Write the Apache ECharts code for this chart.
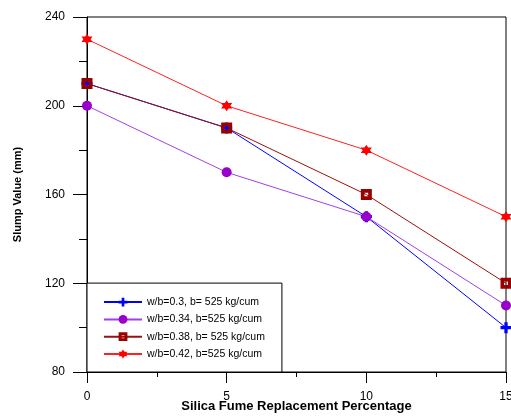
<!DOCTYPE html>
<html>
<head>
<meta charset="utf-8">
<script src="https://cdn.jsdelivr.net/npm/echarts@6/dist/echarts.min.js"></script>
<style>
html,body{margin:0;padding:0;background:#fff;}
#slump-chart{width:511px;height:416px;}
</style>
</head>
<body>
<div id="slump-chart"></div>
<script>
// 坍落度 vs 硅灰掺量
var replacement = [0, 5, 10, 15];
var seriesNames = ['w/b=0.3, b= 525 kg/cum', 'w/b=0.34, b=525 kg/cum', 'w/b=0.38, b= 525 kg/cum', 'w/b=0.42, b=525 kg/cum'];
var wb030 = [210, 190, 150, 100];
var wb034 = [200, 170, 150, 110];
var wb038 = [210, 190, 160, 120];
var wb042 = [230, 200, 180, 150];
var yTicks = [80, 120, 160, 200, 240];
var xTicks = [0, 5, 10, 15];

var font = 'Liberation Sans, Arial, sans-serif';
var plusPath = 'path://M3.5,0H6.5V3.5H10V6.5H6.5V10H3.5V6.5H0V3.5H3.5Z';
var boxPath = 'path://M0,0H10V10H0Z M3.3,3.3V6.7H6.7V3.3Z';
var starPath = 'path://M10,0L12.89,5L18.66,5L15.77,10L18.66,15L12.89,15L10,20L7.11,15L1.34,15L4.23,10L1.34,5L7.11,5Z';

function pairs(vals){
    var res = [];
    for (var i = 0; i < vals.length; i++) {
        res.push([replacement[i], vals[i]]);
    }
    return res;
}

function lineSeries(name, vals, color, lineColor, symbol, size){
    return {
        name: name,
        type: 'line',
        data: pairs(vals),
        symbol: symbol,
        symbolSize: size,
        showAllSymbol: true,
        animation: false,
        lineStyle: { color: lineColor, width: 1 },
        itemStyle: { color: color },
        emphasis: { disabled: true }
    };
}

var slumpchart = echarts.init(document.getElementById('slump-chart'));
var option = {
    animation: false,
    textStyle: { fontFamily: font },
    grid: {
        left: 87,
        right: 5,
        top: 17,
        bottom: 44,
        outerBoundsMode: 'none',
        containLabel: false,
        show: true,
        borderColor: '#000',
        borderWidth: 1
    },
    legend: {
        data: seriesNames,
        orient: 'vertical',
        left: 87,
        bottom: 44,
        backgroundColor: '#fff',
        borderColor: '#000',
        borderWidth: 1,
        padding: [13.5, 17, 12.5, 16],
        itemWidth: 38,
        itemHeight: 11,
        itemGap: 6.3,
        z: 10,
        textStyle: { fontFamily: font, fontSize: 10.5, color: '#000' }
    },
    xAxis: {
        type: 'value',
        min: 0,
        max: 15,
        interval: 5,
        name: 'Silica Fume Replacement Percentage',
        nameLocation: 'middle',
        nameGap: 28,
        nameMoveOverlap: false,
        nameTextStyle: { fontFamily: font, fontSize: 13, fontWeight: 'bold', color: '#000' },
        axisLine: { lineStyle: { color: '#000' } },
        axisTick: { length: 11, lineStyle: { color: '#000' } },
        minorTick: { show: true, splitNumber: 2, length: 5, lineStyle: { color: '#000' } },
        splitLine: { show: false },
        axisLabel: {
            margin: 19,
            fontSize: 12,
            color: '#000',
            fontFamily: font,
            formatter: function(v){ return xTicks.indexOf(v) >= 0 ? String(v) : ''; }
        }
    },
    yAxis: {
        type: 'value',
        min: 80,
        max: 240,
        interval: 40,
        name: 'Slump Value (mm)',
        nameLocation: 'middle',
        nameGap: 64,
        nameMoveOverlap: false,
        nameTextStyle: { fontFamily: font, fontSize: 11, fontWeight: 'bold', color: '#000' },
        axisLine: { lineStyle: { color: '#000' } },
        axisTick: { length: 14, lineStyle: { color: '#000' } },
        minorTick: { show: true, splitNumber: 2, length: 8, lineStyle: { color: '#000' } },
        splitLine: { show: false },
        axisLabel: {
            margin: 22,
            fontSize: 12,
            color: '#000',
            fontFamily: font,
            formatter: function(v){ return yTicks.indexOf(v) >= 0 ? String(v) : ''; }
        }
    },
    series: [
        lineSeries(seriesNames[0], wb030, '#0000ff', '#0000ff', plusPath, 11),
        lineSeries(seriesNames[1], wb034, '#9900cc', '#a040e8', 'circle', 10),
        lineSeries(seriesNames[2], wb038, '#990000', '#9a1010', boxPath, 11),
        lineSeries(seriesNames[3], wb042, '#ff0000', '#ff2020', starPath, 11)
    ]
};
slumpchart.setOption(option);
</script>
</body>
</html>
